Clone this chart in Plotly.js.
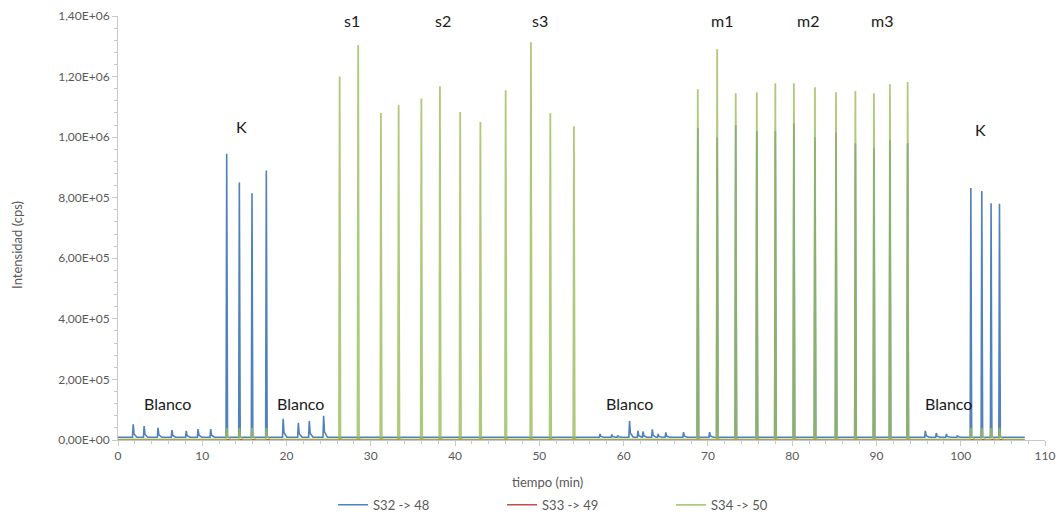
<!DOCTYPE html>
<html>
<head>
<meta charset="utf-8">
<script src="https://cdn.plot.ly/plotly-3.0.1.min.js"></script>
<style>html,body{margin:0;padding:0;background:#fff;}#chart{width:1059px;height:517px;}</style>
</head>
<body>
<div id="chart"></div>
<script>
// ---- Data (time in min, intensity in cps) ----
const seriesNames = ["S32 -> 48", "S33 -> 49", "S34 -> 50"];
const runEnd = 107.6;

const baseS32 = 9e3;
const baseS33 = 1e3;
const baseS34 = 2e3;

// Blank 1
const blanco1T = [1.8, 3.1, 4.75, 6.4, 8.1, 9.5, 11.0];
const blanco1S32 = [5.2e4, 4.6e4, 4.0e4, 3.3e4, 3.0e4, 3.6e4, 3.6e4];
// K (first block)
const k1T = [12.9, 14.4, 15.9, 17.6];
const k1S32 = [9.45e5, 8.5e5, 8.15e5, 8.9e5];
const k1S34 = [4.0e4, 4.0e4, 4.0e4, 4.0e4];
// Blank 2
const blanco2T = [19.6, 21.4, 22.7, 24.4];
const blanco2S32 = [7.0e4, 5.7e4, 6.3e4, 8.0e4];
// s1, s2, s3 samples
const sT = [26.3, 28.5, 31.2, 33.3, 36.0, 38.2, 40.6, 43.0, 46.0, 49.0, 51.3, 54.1];
const sS34 = [1.20e6, 1.304e6, 1.08e6, 1.106e6, 1.128e6, 1.168e6, 1.083e6, 1.05e6, 1.155e6, 1.313e6, 1.08e6, 1.036e6];
const sS33 = [6e3, 6e3, 6e3, 6e3, 6e3, 6e3, 6e3, 6e3, 6e3, 6e3, 6e3, 6e3];
// Blank 3
const blanco3T = [57.2, 58.6, 59.3, 60.7, 61.7, 62.3, 63.4, 64.1, 65.0, 67.1];
const blanco3S32 = [2.0e4, 1.8e4, 1.5e4, 6.3e4, 3.0e4, 2.8e4, 3.5e4, 2.0e4, 2.5e4, 2.6e4];
// m1, m2, m3 samples
const mT = [68.8, 71.1, 73.3, 75.8, 78.0, 80.2, 82.7, 85.2, 87.5, 89.7, 91.6, 93.7];
const mS34 = [1.158e6, 1.29e6, 1.145e6, 1.148e6, 1.178e6, 1.178e6, 1.165e6, 1.148e6, 1.152e6, 1.145e6, 1.175e6, 1.182e6];
const mS32 = [1.03e6, 1.0e6, 1.04e6, 1.02e6, 1.02e6, 1.045e6, 1.0e6, 1.015e6, 0.98e6, 0.965e6, 0.99e6, 0.98e6];
const mS33 = [6e3, 6e3, 6e3, 6e3, 6e3, 6e3, 6e3, 6e3, 6e3, 6e3, 6e3, 6e3];
// small extra S32 peak between m1 injections
const extraT = [70.2];
const extraS32 = [2.6e4];
// Blank 4
const blanco4T = [95.8, 97.1, 98.3, 99.6];
const blanco4S32 = [3.0e4, 2.3e4, 2.0e4, 1.5e4];
// K (second block)
const k2T = [101.2, 102.5, 103.6, 104.6];
const k2S32 = [8.32e5, 8.22e5, 7.82e5, 7.8e5];
const k2S34 = [4.0e4, 4.0e4, 4.0e4, 4.0e4];

// Axis tick labels
const yTickVals = [0, 2e5, 4e5, 6e5, 8e5, 1e6, 1.2e6, 1.4e6];
const yTickText = ["0,00E+00", "2,00E+05", "4,00E+05", "6,00E+05", "8,00E+05", "1,00E+06", "1,20E+06", "1,40E+06"];
const xTickVals = [0, 10, 20, 30, 40, 50, 60, 70, 80, 90, 100, 110];

// ---- Build chromatogram traces from peak lists ----
function buildTrace(groups, base) {
  const peaks = [];
  groups.forEach(g => g[0].forEach((t, i) => peaks.push([t, g[1][i]])));
  peaks.sort((a, b) => a[0] - b[0]);
  const x = [0], y = [base];
  peaks.forEach(([t, h]) => {
    x.push(t - 0.08); y.push(base);
    x.push(t); y.push(h);
    if (h < 2e5) {
      x.push(t + 0.1); y.push(base + 0.25 * (h - base));
      x.push(t + 0.45); y.push(base);
    } else {
      x.push(t + 0.1); y.push(base);
    }
  });
  x.push(runEnd); y.push(base);
  return {x, y};
}

const tS32 = buildTrace([[blanco1T, blanco1S32], [k1T, k1S32], [blanco2T, blanco2S32],
  [blanco3T, blanco3S32], [mT, mS32], [extraT, extraS32], [blanco4T, blanco4S32], [k2T, k2S32]], baseS32);
const tS33 = buildTrace([[sT, sS33], [mT, mS33]], baseS33);
const tS34 = buildTrace([[k1T, k1S34], [sT, sS34], [mT, mS34], [k2T, k2S34]], baseS34);

const colors = ["#4F81BD", "#C0504D", "#9BBB59"];
const traces = [
  {x: tS32.x, y: tS32.y, name: seriesNames[0], mode: "lines", line: {color: colors[0], width: 1.6}},
  {x: tS33.x, y: tS33.y, name: seriesNames[1], mode: "lines", line: {color: colors[1], width: 1.6}},
  {x: tS34.x, y: tS34.y, name: seriesNames[2], mode: "lines", line: {color: colors[2], width: 1.8}, opacity: 0.8}
];

const fontFam = "Lato, 'Open Sans', sans-serif";
const grey = "#595959";
const axisGrey = "#C8C8C8";

function label(text, x, y) {
  return {text, x, y, xref: "x", yref: "y", showarrow: false,
    font: {family: fontFam, size: 16, color: "#1a1a1a"}};
}

const layout = {
  width: 1059, height: 517,
  margin: {l: 118, r: 14, t: 16, b: 77, autoexpand: false},
  paper_bgcolor: "#fff", plot_bgcolor: "#fff",
  showlegend: true,
  legend: {orientation: "h", x: 0.232, xanchor: "left", y: -0.153, yanchor: "middle",
    font: {family: fontFam, size: 13, color: grey}, entrywidth: 124, entrywidthmode: "pixels",
    traceorder: "normal", itemwidth: 30},
  xaxis: {range: [0, 110], tickvals: xTickVals, showgrid: false, zeroline: false,
    showline: true, linecolor: axisGrey, linewidth: 1,
    ticks: "outside", ticklen: 5, tickcolor: axisGrey,
    minor: {dtick: 2, ticks: "outside", ticklen: 3, tickcolor: axisGrey, showgrid: false},
    tickfont: {family: fontFam, size: 12, color: grey}},
  yaxis: {range: [0, 1.4e6], tickvals: yTickVals, ticktext: yTickText, showgrid: false, zeroline: false,
    showline: true, linecolor: axisGrey, linewidth: 1,
    ticks: "outside", ticklen: 5, tickcolor: axisGrey,
    minor: {dtick: 4e4, ticks: "outside", ticklen: 3, tickcolor: axisGrey, showgrid: false},
    tickfont: {family: fontFam, size: 12, color: grey}},
  annotations: [
    {text: "tiempo (min)", xref: "paper", yref: "paper", x: 0.463, y: -0.099, xanchor: "center", yanchor: "middle",
      showarrow: false, font: {family: fontFam, size: 13, color: grey}},
    {text: "Intensidad (cps)", xref: "paper", yref: "paper", x: -0.109, y: 0.46, xanchor: "center", yanchor: "middle",
      textangle: -90, showarrow: false, font: {family: fontFam, size: 13, color: grey}},
    label("Blanco", 5.9, 1.22e5), label("Blanco", 21.6, 1.22e5), label("Blanco", 60.7, 1.22e5), label("Blanco", 98.5, 1.22e5),
    label("K", 14.7, 1.036e6), label("K", 102.4, 1.026e6),
    label("s1", 27.8, 1.386e6), label("s2", 38.6, 1.386e6), label("s3", 50.1, 1.386e6),
    label("m1", 71.7, 1.386e6), label("m2", 81.9, 1.386e6), label("m3", 90.7, 1.386e6)
  ]
};

Plotly.newPlot("chart", traces, layout, {staticPlot: true, displayModeBar: false});
</script>
</body>
</html>
